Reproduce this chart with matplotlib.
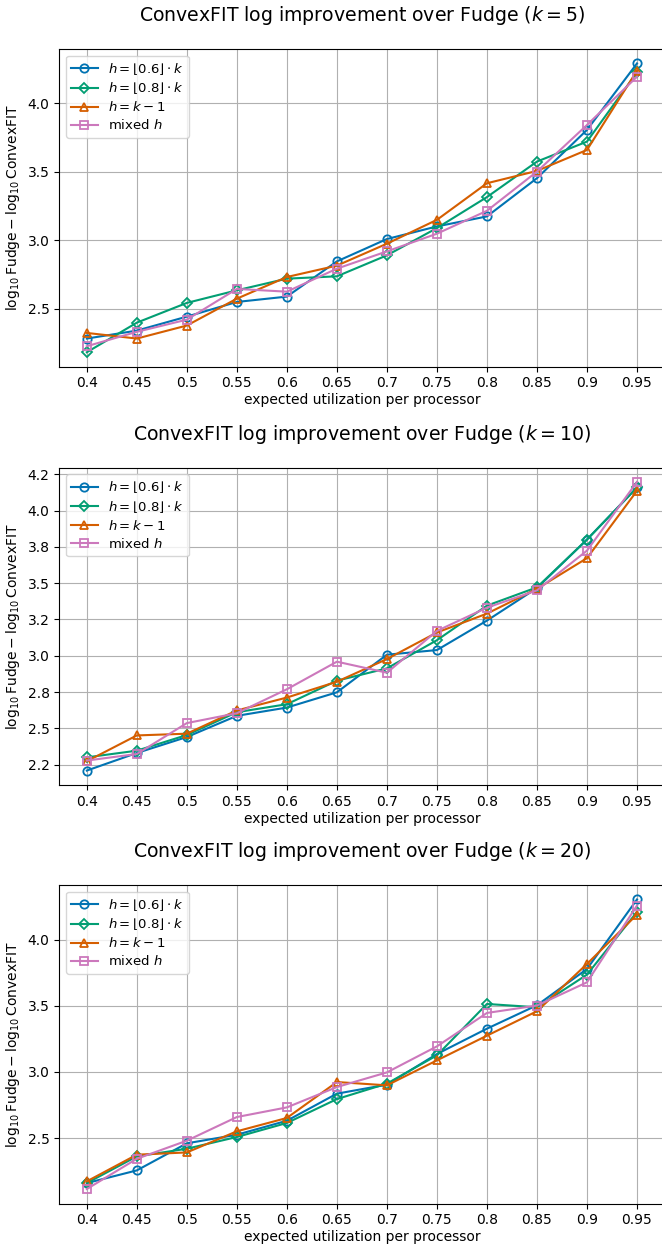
import matplotlib
matplotlib.use("Agg")
import matplotlib.pyplot as plt
from matplotlib.ticker import FormatStrFormatter, MultipleLocator

utilization = ["0.4", "0.45", "0.5", "0.55", "0.6", "0.65", "0.7", "0.75", "0.8", "0.85", "0.9", "0.95"]
k_values = [5, 10, 20]

labels = [r"$h = \lfloor 0.6 \rfloor \cdot k$",
          r"$h = \lfloor 0.8 \rfloor \cdot k$",
          r"$h = k - 1$",
          r"mixed $h$"]

# k = 5
k5_h06 = [2.284, 2.342, 2.444, 2.551, 2.590, 2.847, 3.010, 3.102, 3.175, 3.454, 3.806, 4.291]
k5_h08 = [2.184, 2.400, 2.544, 2.636, 2.721, 2.738, 2.891, 3.090, 3.316, 3.575, 3.721, 4.226]
k5_hk1 = [2.325, 2.284, 2.379, 2.575, 2.733, 2.816, 2.976, 3.150, 3.417, 3.507, 3.660, 4.238]
k5_mix = [2.228, 2.333, 2.422, 2.646, 2.626, 2.794, 2.920, 3.049, 3.216, 3.502, 3.842, 4.194]

# k = 10
k10_h06 = [2.209, 2.330, 2.440, 2.586, 2.643, 2.748, 3.007, 3.039, 3.242, 3.466, 3.800, 4.159]
k10_h08 = [2.300, 2.346, 2.454, 2.611, 2.666, 2.828, 2.913, 3.107, 3.345, 3.471, 3.800, 4.159]
k10_hk1 = [2.273, 2.451, 2.463, 2.623, 2.712, 2.821, 2.977, 3.160, 3.290, 3.461, 3.672, 4.136]
k10_mix = [2.278, 2.323, 2.536, 2.604, 2.769, 2.959, 2.883, 3.171, 3.331, 3.450, 3.724, 4.197]

# k = 20
k20_h06 = [2.159, 2.255, 2.460, 2.525, 2.631, 2.836, 2.904, 3.136, 3.328, 3.505, 3.780, 4.306]
k20_h08 = [2.159, 2.361, 2.419, 2.508, 2.614, 2.795, 2.912, 3.126, 3.515, 3.490, 3.737, 4.212]
k20_hk1 = [2.172, 2.374, 2.391, 2.551, 2.652, 2.924, 2.899, 3.088, 3.275, 3.460, 3.818, 4.192]
k20_mix = [2.114, 2.343, 2.480, 2.659, 2.732, 2.886, 2.997, 3.194, 3.447, 3.503, 3.679, 4.260]

panels = [
    (k5_h06, k5_h08, k5_hk1, k5_mix),
    (k10_h06, k10_h08, k10_hk1, k10_mix),
    (k20_h06, k20_h08, k20_hk1, k20_mix),
]

colors = ["#0173b2", "#029e73", "#d55e00", "#cc78bc"]
markers = ["o", "D", "^", "s"]

fig = plt.figure(figsize=(6.62, 12.48), dpi=100)
W, H = 662.0, 1248.0
# axes pixel boxes: (left, top, right, bottom)
boxes = [(59.3, 49.0, 664.5, 366.7),
         (59.3, 467.5, 664.5, 785.0),
         (59.3, 885.0, 664.5, 1203.5)]

x = list(range(len(utilization)))

for i, (box, series, k) in enumerate(zip(boxes, panels, k_values)):
    l, t, r, b = box
    ax = fig.add_axes([l / W, 1 - b / H, (r - l) / W, (b - t) / H])
    for s, c, m, lab in zip(series, colors, markers, labels):
        ax.plot(x, s, color=c, marker=m, markerfacecolor="none",
                markeredgecolor=c, markersize=6 if m != "D" else 5.5,
                markeredgewidth=1.3, linewidth=1.5, label=lab)
    ax.set_xticks(x)
    ax.set_xticklabels(utilization)
    ax.grid(True, color="#b0b0b0", linewidth=0.8)
    ax.set_axisbelow(True)
    ax.yaxis.set_major_formatter(FormatStrFormatter("%.1f"))
    if i == 1:
        ax.yaxis.set_major_locator(MultipleLocator(0.25))
    ax.tick_params(labelsize=10)
    ax.set_xlabel("expected utilization per processor", fontsize=10, labelpad=2)
    ax.set_ylabel(r"$\log_{10}\mathrm{Fudge} - \log_{10}\mathrm{ConvexFIT}$", fontsize=10)
    ax.set_title(r"ConvexFIT log improvement over Fudge ($k = %d$)" % k, fontsize=13.6, pad=20)
    ax.legend(loc="upper left", fontsize=9.5, labelspacing=0.3)

fig.savefig("out.png", dpi=100)
